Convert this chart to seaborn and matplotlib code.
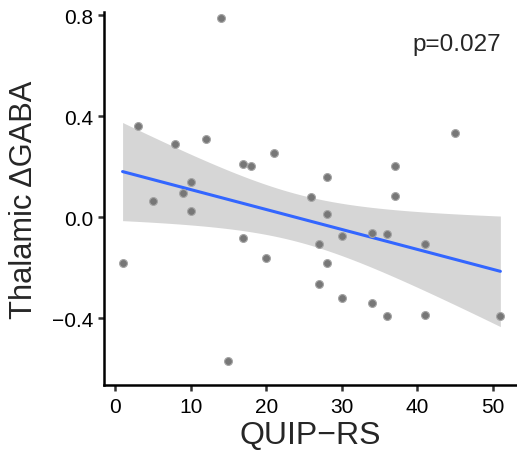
import seaborn as sns
import matplotlib.pyplot as plt
import pandas as pd
import numpy as np

# values
quip_rs = [1, 3, 5, 8, 9, 10, 10, 12, 14, 15, 17, 17, 18, 20, 21, 26, 27, 27,
           28, 28, 28, 30, 30, 34, 34, 36, 36, 37, 37, 41, 41, 45, 51]
gaba = [-0.18, 0.36, 0.065, 0.29, 0.095, 0.14, 0.026, 0.31, 0.79, -0.57,
        0.21, -0.08, 0.205, -0.16, 0.255, 0.08, -0.105, -0.265, 0.16, 0.015,
        -0.18, -0.075, -0.32, -0.06, -0.34, -0.065, -0.39, 0.205, 0.085,
        -0.105, -0.385, 0.335, -0.39]
p_label = 'p=0.027'

df = pd.DataFrame({'QUIP-RS': quip_rs, 'gaba': gaba})

sns.set_style('white')
plt.rcParams['font.family'] = ['Liberation Sans', 'DejaVu Sans']

fig = plt.figure(figsize=(5.17, 4.52), dpi=100)
ax = fig.add_axes([0.202, 0.145, 0.798, 0.826])

# analytic 95% band like ggplot's geom_smooth(method='lm')
x = df['QUIP-RS'].values
y = df['gaba'].values
n = len(x)
b, a = np.polyfit(x, y, 1)
resid = y - (a + b * x)
s = np.sqrt((resid ** 2).sum() / (n - 2))
xg = np.linspace(x.min(), x.max(), 100)
se = s * np.sqrt(1 / n + (xg - x.mean()) ** 2 / ((x - x.mean()) ** 2).sum())
tval = 2.0395  # t(0.975, 31)
fit = a + b * xg
ax.fill_between(xg, fit - tval * se, fit + tval * se, color='#999999',
                alpha=0.4, lw=0, zorder=1)

sns.regplot(data=df, x='QUIP-RS', y='gaba', ci=None, ax=ax,
            scatter_kws=dict(s=32, color='#777777', edgecolor='#a5a5a5',
                             linewidths=0.8, alpha=1, zorder=3),
            line_kws=dict(color='#3366FF', lw=2.2, zorder=2))

ax.text(45.2, 0.685, p_label, ha='center', va='center', fontsize=17.5)

ax.set_xlim(-1.4, 53.2)
ax.set_ylim(-0.665, 0.812)
ax.set_xticks([0, 10, 20, 30, 40, 50])
ax.set_yticks([-0.4, 0.0, 0.4, 0.8])
ax.set_yticklabels(['\u22120.4', '0.0', '0.4', '0.8'])

ax.set_xlabel('QUIP\u2212RS', fontsize=23, labelpad=3)
ax.set_ylabel('Thalamic \u0394GABA', fontsize=22.2, labelpad=9)

sns.despine(ax=ax)
for sp in ['left', 'bottom']:
    ax.spines[sp].set_linewidth(1.8)
    ax.spines[sp].set_color('black')
ax.tick_params(axis='both', which='major', labelsize=15, length=4, width=1.8,
               color='#333333', labelcolor='black', direction='out',
               left=True, bottom=True, pad=4)

fig.savefig('out.png', dpi=100)
